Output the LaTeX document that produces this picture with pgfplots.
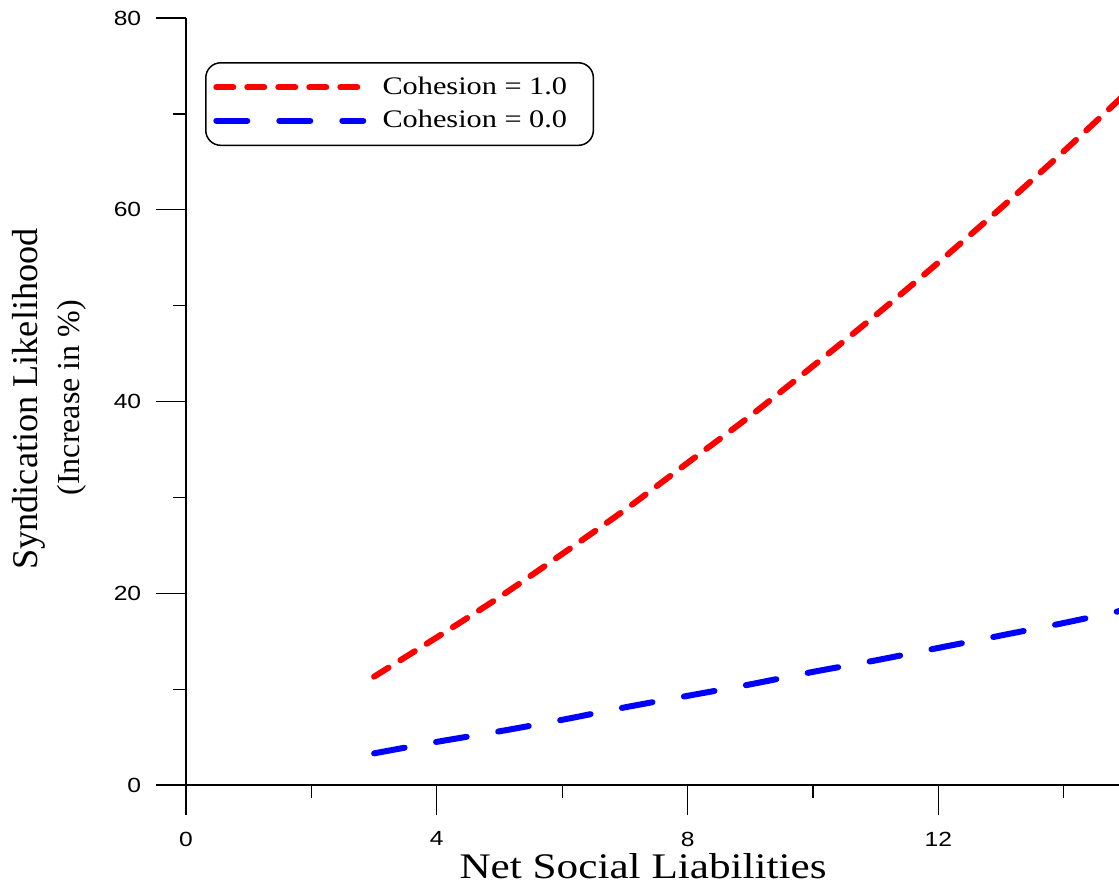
\documentclass[border=0pt]{standalone}
\usepackage{fontspec}
\usepackage{pgfplots}
\pgfplotsset{compat=1.18}
\setmainfont{Liberation Serif}
\newfontfamily\tickfont[FakeStretch=1.2]{Liberation Sans}
\newfontfamily\widserif[FakeStretch=1.2]{Liberation Serif}
\begin{document}
\begin{tikzpicture}
\begin{axis}[
  name=ax,
  scale only axis,
  width=373.2pt, height=306.8pt,
  xmin=0, xmax=14.88, ymin=0, ymax=80,
  axis x line*=bottom, axis y line*=left,
  axis line style={-, line width=0.5pt, black},
  tick align=outside,
  major tick length=12pt, minor tick length=5.2pt,
  xtick={0,4,8,12}, ytick={0,20,40,60,80},
  minor xtick={2,6,10,14}, minor ytick={10,30,50,70},
  every tick/.style={black, line width=0.5pt},
  /pgf/number format/assume math mode=true,
  ticklabel style={font=\tickfont\fontsize{8.2}{10}\selectfont},
  xticklabel style={yshift=-3.2pt},
  yticklabel style={xshift=-2.4pt},
  clip mode=individual,
  legend style={draw=black, line width=0.6pt, rounded corners=6pt,
    at={(0.0204,0.9426)}, anchor=north west,
    font=\widserif\fontsize{10.1}{11}\selectfont,
    inner xsep=3pt, inner ysep=3.6pt, row sep=0.8pt, column sep=4.5pt,
    cells={anchor=west}},
  legend image code/.code={\draw[#1] (1.2pt,0pt) -- (60pt,0pt);},
]
\addplot[red, line width=2.4pt, line cap=round, dash pattern=on 6.8pt off 5.6pt, smooth] coordinates {
(3,11.3) (4,15.4) (5,19.6) (6,24.1) (7,28.7) (8,33.6) (9,38.5) (10,43.7) (11,49.0) (12,54.5) (13,60.2) (14,66.1) (15,72.2)};
\addlegendentry{Cohesion = 1.0\hspace*{5.5pt}}
\addplot[blue, line width=2.4pt, line cap=round, dash pattern=on 12.4pt off 12.8pt, smooth] coordinates {
(3,3.3) (4,4.5) (5,5.6) (6,6.8) (7,8.1) (8,9.3) (9,10.5) (10,11.8) (11,13.0) (12,14.3) (13,15.6) (14,16.9) (15,18.3)};
\addlegendentry{Cohesion = 0.0\hspace*{5.5pt}}
\node[anchor=base, font=\widserif\fontsize{14.4}{16}\selectfont] at (axis cs:7.29,-9.75) {Net Social Liabilities};
\node[anchor=base, rotate=90, font=\fontsize{14.5}{16}\selectfont] at (axis cs:-2.376,40.26) {Syndication Likelihood};
\node[anchor=base, rotate=90, font=\fontsize{12.8}{14}\selectfont] at (axis cs:-1.70,40.4) {(Increase in \%)};
\end{axis}
\pgfresetboundingbox
\path[use as bounding box] ([xshift=-74.4pt,yshift=-40.4pt]ax.south west) rectangle ([yshift=7.2pt]ax.north east);
\end{tikzpicture}
\end{document}
